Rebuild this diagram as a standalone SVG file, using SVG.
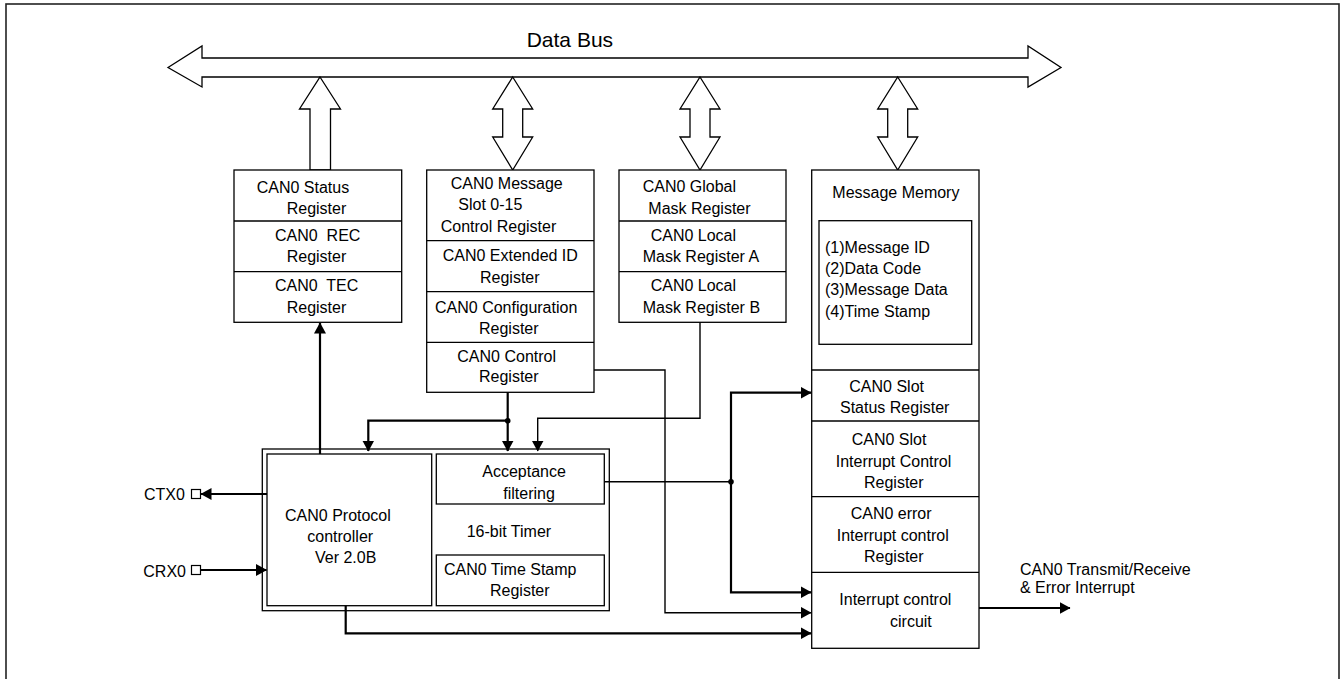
<svg xmlns="http://www.w3.org/2000/svg" width="1342" height="679" viewBox="0 0 1342 679">
  <style>
    .box { fill: #fff; stroke: #000; stroke-width: 1.3; }
    .div { stroke: #000; stroke-width: 1.3; fill: none; }
    .hollow { fill: #fff; stroke: #000; stroke-width: 1.3; stroke-linejoin: miter; }
    .t { font-family: "Liberation Sans", Arial, sans-serif; font-size: 16px; fill: #000; }
    .c { text-anchor: middle; }
    .thin { fill: none; stroke: #000; stroke-width: 1.4; }
    .thick { fill: none; stroke: #000; stroke-width: 2.2; }
    .arr { marker-end: url(#head); }
  </style>
  <defs>
    <marker id="head" markerUnits="userSpaceOnUse" viewBox="0 0 11 12" refX="10.5" refY="6" markerWidth="11" markerHeight="12" orient="auto">
      <path d="M0,0 L11,6 L0,12 z" fill="#000"/>
    </marker>
  </defs>

  <rect width="1342" height="679" fill="#fff"/>
  <!-- outer frame -->
  <rect x="6" y="4" width="1333" height="678" fill="none" stroke="#222" stroke-width="1.6"/>

  <!-- data bus -->
  <g id="data-bus">
    <polygon class="hollow" points="168,67.5 202,46 202,58 1028,58 1028,46 1061,67.5 1028,87 1028,77 202,77 202,87"/>
    <text class="t" x="526.7" y="47" style="font-size:21px">Data Bus</text>
  </g>

  <!-- bus taps -->
  <g id="bus-taps">
    <polygon class="hollow" points="320,77 340.5,109 330.5,109 330.5,170 310,170 310,109 299.5,109"/>
    <polygon class="hollow" points="512.7,77 532.7,109 522.7,109 522.7,137 532.7,137 512.7,170 492.7,137 502.7,137 502.7,109 492.7,109"/>
    <polygon class="hollow" points="700,77 720,109 710,109 710,137 720,137 700,170 680,137 690,137 690,109 680,109"/>
    <polygon class="hollow" points="897.7,77 917.7,109 907.7,109 907.7,137 917.7,137 897.7,170 877.7,137 887.7,137 887.7,109 877.7,109"/>
  </g>

  <!-- status / REC / TEC registers -->
  <g id="status-registers">
    <rect class="box" x="234" y="170" width="167.7" height="152.3"/>
    <line class="div" x1="234" y1="221" x2="401.7" y2="221"/>
    <line class="div" x1="234" y1="271.7" x2="401.7" y2="271.7"/>
    <text class="t" x="256.7" y="193">CAN0 Status</text>
    <text class="t" x="286.7" y="214">Register</text>
    <text class="t" x="275" y="241" xml:space="preserve">CAN0  REC</text>
    <text class="t" x="286.7" y="261.7">Register</text>
    <text class="t" x="275" y="291" xml:space="preserve">CAN0  TEC</text>
    <text class="t" x="286.7" y="312.7">Register</text>
  </g>

  <!-- message slot / extended ID / configuration / control registers -->
  <g id="control-registers">
    <rect class="box" x="426.7" y="170" width="167.3" height="222.3"/>
    <line class="div" x1="426.7" y1="240.7" x2="594" y2="240.7"/>
    <line class="div" x1="426.7" y1="291.7" x2="594" y2="291.7"/>
    <line class="div" x1="426.7" y1="342.3" x2="594" y2="342.3"/>
    <text class="t" x="450.7" y="189">CAN0 Message</text>
    <text class="t" x="458.3" y="210">Slot 0-15</text>
    <text class="t" x="440.7" y="231.7">Control Register</text>
    <text class="t" x="442.7" y="261">CAN0 Extended ID</text>
    <text class="t" x="480" y="282.7">Register</text>
    <text class="t" x="435" y="313.3">CAN0 Configuration</text>
    <text class="t" x="479" y="334.3">Register</text>
    <text class="t" x="457.3" y="361.7">CAN0 Control</text>
    <text class="t" x="479" y="382.3">Register</text>
  </g>

  <!-- mask registers -->
  <g id="mask-registers">
    <rect class="box" x="619" y="170" width="167" height="152.3"/>
    <line class="div" x1="619" y1="221" x2="786" y2="221"/>
    <line class="div" x1="619" y1="271.7" x2="786" y2="271.7"/>
    <text class="t" x="642.7" y="192.3">CAN0 Global</text>
    <text class="t" x="648.3" y="214">Mask Register</text>
    <text class="t" x="650.7" y="241">CAN0 Local</text>
    <text class="t" x="642.7" y="261.7">Mask Register A</text>
    <text class="t" x="650.7" y="291">CAN0 Local</text>
    <text class="t" x="642.7" y="312.7">Mask Register B</text>
  </g>

  <!-- message memory and slot / interrupt registers -->
  <g id="message-memory">
    <rect class="box" x="811.7" y="170" width="167.3" height="478.3"/>
    <text class="t" x="832.3" y="198.3">Message Memory</text>
    <rect class="box" x="819" y="220.7" width="152.7" height="123.6"/>
    <text class="t" x="825" y="252.5">(1)Message ID</text>
    <text class="t" x="825" y="273.5">(2)Data Code</text>
    <text class="t" x="825" y="295">(3)Message Data</text>
    <text class="t" x="825" y="316.7">(4)Time Stamp</text>
    <line class="div" x1="811.7" y1="370" x2="979" y2="370"/>
    <line class="div" x1="811.7" y1="421" x2="979" y2="421"/>
    <line class="div" x1="811.7" y1="496.7" x2="979" y2="496.7"/>
    <line class="div" x1="811.7" y1="572.3" x2="979" y2="572.3"/>
  </g>
  <g id="slot-status">
    <text class="t" x="849.3" y="391.7">CAN0 Slot</text>
    <text class="t" x="840" y="413.3">Status Register</text>
  </g>
  <g id="slot-interrupt">
    <text class="t" x="851.7" y="445">CAN0 Slot</text>
    <text class="t" x="835.7" y="466.7">Interrupt Control</text>
    <text class="t" x="864" y="487.7">Register</text>
  </g>
  <g id="error-interrupt">
    <text class="t" x="850.7" y="519.3">CAN0 error</text>
    <text class="t" x="836.7" y="541">Interrupt control</text>
    <text class="t" x="864" y="561.7">Register</text>
  </g>
  <g id="interrupt-circuit">
    <text class="t" x="839.3" y="605">Interrupt control</text>
    <text class="t" x="890" y="626.7">circuit</text>
  </g>

  <!-- protocol controller block -->
  <g id="protocol-block">
    <rect class="box" x="262.3" y="449" width="347" height="161.7"/>
    <rect class="box" x="267" y="454" width="164.7" height="151.7"/>
    <text class="t" x="285" y="520.7">CAN0 Protocol</text>
    <text class="t" x="307.3" y="542.3">controller</text>
    <text class="t" x="315" y="563.3">Ver 2.0B</text>
  </g>
  <g id="acceptance-filter">
    <rect class="box" x="436.3" y="454" width="168" height="50"/>
    <text class="t" x="482.3" y="477.3">Acceptance</text>
    <text class="t" x="503.3" y="499">filtering</text>
  </g>
  <g id="timer">
    <text class="t" x="466.7" y="536.7">16-bit Timer</text>
  </g>
  <g id="time-stamp">
    <rect class="box" x="436.3" y="555" width="168" height="50.7"/>
    <text class="t" x="444" y="575">CAN0 Time Stamp</text>
    <text class="t" x="490" y="596">Register</text>
  </g>

  <!-- pins -->
  <g id="ctx0">
    <rect x="191.5" y="489.5" width="9" height="9" fill="#fff" stroke="#000" stroke-width="1.2"/>
    <text class="t" x="144" y="499.5">CTX0</text>
  </g>
  <g id="crx0">
    <rect x="191.5" y="565.5" width="9" height="9" fill="#fff" stroke="#000" stroke-width="1.2"/>
    <text class="t" x="143.3" y="576.7">CRX0</text>
  </g>

  <g id="interrupt-output">
    <text class="t" x="1020" y="575">CAN0 Transmit/Receive</text>
    <text class="t" x="1020" y="593.3">&amp; Error Interrupt</text>
  </g>

  <!-- connectors -->
  <g id="connectors">
    <path class="thick arr" d="M320,454 V323"/>
    <path class="thick arr" d="M507.7,392.3 V451"/>
    <path class="thick arr" d="M507.7,420.7 H368.3 V451"/>
    <path class="thin arr" d="M700,322.3 V418.3 H537.7 V451"/>
    <path class="thin arr" d="M594,370 H665 V612.7 H811"/>
    <path class="thin" d="M604.3,481.7 H731"/>
    <path class="thick arr" d="M731,481.7 V392.7 H811"/>
    <path class="thick arr" d="M731,481.7 V592.3 H811"/>
    <path class="thick arr" d="M345.7,605.7 V633.3 H811"/>
    <path class="thick arr" d="M267,494 H201"/>
    <path class="thick arr" d="M201,570 H266.5"/>
    <path class="thick arr" d="M979,608 H1070"/>
    <circle cx="507.7" cy="420.7" r="2.8" fill="#000"/>
    <circle cx="731" cy="481.7" r="2.8" fill="#000"/>
  </g>
</svg>
